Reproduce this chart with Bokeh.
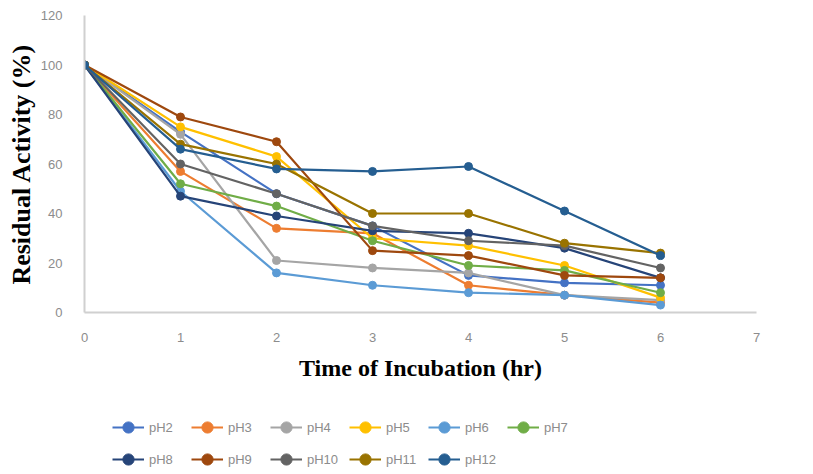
from bokeh.plotting import figure
from bokeh.models import Legend, LegendItem, FixedTicker, Range1d
from bokeh.layouts import column
from bokeh.embed import file_html
from bokeh.resources import INLINE

hours = [0, 1, 2, 3, 4, 5, 6]
pH2 = [100, 73, 48, 35, 15, 12, 11]
pH3 = [100, 57, 34, 32, 11, 7, 4]
pH4 = [100, 72, 21, 18, 16, 7, 5]
pH5 = [100, 75, 63, 30, 27, 19, 6]
pH6 = [100, 49, 16, 11, 8, 7, 3]
pH7 = [100, 52, 43, 29, 19, 17, 8]
pH8 = [100, 47, 39, 33, 32, 26, 14]
pH9 = [100, 79, 69, 25, 23, 15, 14]
pH10 = [100, 60, 48, 35, 29, 27, 18]
pH11 = [100, 68, 60, 40, 40, 28, 24]
pH12 = [100, 66, 58, 57, 59, 41, 23]

names = ["pH2", "pH3", "pH4", "pH5", "pH6", "pH7", "pH8", "pH9", "pH10", "pH11", "pH12"]
series = [pH2, pH3, pH4, pH5, pH6, pH7, pH8, pH9, pH10, pH11, pH12]
colors = ["#4472C4", "#ED7D31", "#A5A5A5", "#FFC000", "#5B9BD5", "#70AD47",
          "#264478", "#9E480E", "#636363", "#997300", "#255E91"]

x_ticks = [0, 1, 2, 3, 4, 5, 6, 7]
y_ticks = [0, 20, 40, 60, 80, 100, 120]

p = figure(width=813, height=400, output_backend="svg", toolbar_location=None,
           x_range=Range1d(0, 7), y_range=Range1d(0, 120),
           min_border_left=84, min_border_right=57, min_border_top=15, min_border_bottom=88)
p.outline_line_color = None
p.xgrid.grid_line_color = None
p.ygrid.grid_line_color = None
p.background_fill_color = "white"
p.border_fill_color = "white"

for ax in (p.xaxis[0], p.yaxis[0]):
    ax.axis_line_color = "#D0D0D0"
    ax.axis_line_width = 2
    ax.major_tick_line_color = None
    ax.minor_tick_line_color = None
    ax.major_label_text_color = "#8C8C8C"
    ax.major_label_text_font = "Liberation Sans"
    ax.major_label_text_font_size = "13px"
    ax.axis_label_text_font = "Liberation Serif"
    ax.axis_label_text_font_style = "bold"
    ax.axis_label_text_color = "#000000"

p.xaxis.axis_label_text_font_size = "24px"
p.yaxis.axis_label_text_font_size = "26px"
p.xaxis.ticker = FixedTicker(ticks=x_ticks)
p.yaxis.ticker = FixedTicker(ticks=y_ticks)
p.xaxis.axis_label = "Time of Incubation (hr)"
p.yaxis.axis_label = "Residual Activity (%)"
p.xaxis.major_label_standoff = 14
p.yaxis.major_label_standoff = 16
p.xaxis.axis_label_standoff = 10
p.yaxis.axis_label_standoff = 2

for ys, c in zip(series, colors):
    p.line(hours, ys, line_color=c, line_width=2.2)
    p.scatter(hours, ys, size=8, fill_color=c, line_color=c)

# legend strip below the chart
lf = figure(width=813, height=74, output_backend="svg", toolbar_location=None,
            x_range=Range1d(1000, 1001), y_range=Range1d(1000, 1001),
            min_border=0, min_border_left=0, min_border_right=0,
            min_border_top=0, min_border_bottom=0)
lf.axis.visible = False
lf.grid.visible = False
lf.outline_line_color = None
lf.border_fill_color = "white"
lf.background_fill_color = "white"

renderers = {}
for name, ys, c in zip(names, series, colors):
    r1 = lf.line(hours, ys, line_color=c, line_width=2.2)
    r2 = lf.scatter(hours, ys, size=8, fill_color=c, line_color=c)
    renderers[name] = [r1, r2]

# legend fills column by column: order items so rows read pH2..pH7 / pH8..pH12
legend_order = ["pH2", "pH8", "pH3", "pH9", "pH4", "pH10", "pH5", "pH11", "pH6", "pH12", "pH7"]
items = [LegendItem(label=n, renderers=renderers[n]) for n in legend_order]

legend = Legend(items=items, ncols=6, location=(28, 1),
                glyph_width=32, glyph_height=28, label_standoff=5, label_width=38,
                spacing=4, padding=0, margin=0,
                label_text_font="Liberation Sans", label_text_font_size="13px",
                label_text_color="#8C8C8C", border_line_color=None,
                background_fill_alpha=0)
lf.add_layout(legend, "center")

layout = column(p, lf, spacing=0)
open("out.html", "w").write(file_html(layout, INLINE))
